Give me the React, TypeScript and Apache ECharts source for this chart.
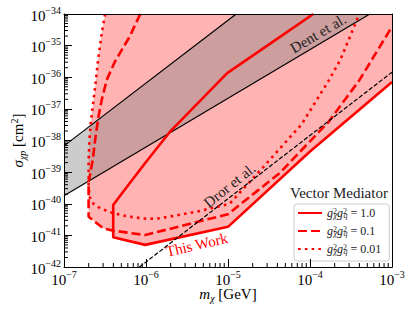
import React, { useEffect, useRef } from "react";
import * as echarts from "echarts";

const FONT = "'Liberation Serif', 'Times New Roman', serif";

// axis extents (log10)
const X_EXP = [-7, -3];
const Y_EXP = [-42, -34];

// g_chi^2 g_q^2 = 1.0 (solid)
const solidLogM = [-3.96, -4.37, -5.01, -5.71, -6.01, -6.29, -6.40, -6.40, -6.01, -5.00, -4.00, -3.00];
const solidLogS = [-34.0, -34.73, -35.87, -37.73, -38.71, -39.66, -40.04, -41.06, -41.30, -40.73, -38.35, -36.15];

// g^2 = 0.1 (dashed)
const dashedLogM = [-6.07, -6.20, -6.38, -6.48, -6.54, -6.58, -6.62, -6.65, -6.68, -6.70, -6.70, -6.52, -6.40, -6.01, -5.00, -4.37, -3.77, -3.40, -3.00];
const dashedLogS = [-34.0, -34.72, -35.51, -36.09, -36.72, -37.25, -37.98, -38.62, -39.05, -39.30, -40.41, -40.78, -40.85, -40.99, -40.33, -39.03, -37.40, -36.10, -34.40];

// g^2 = 0.01 (dotted)
const dottedLogM = [-6.50, -6.54, -6.58, -6.62, -6.655, -6.674, -6.69, -6.70, -6.70, -6.68, -6.64, -6.56, -6.40, -6.20, -5.98, -5.83, -5.38, -4.98, -4.57, -4.10, -3.78, -3.63, -3.47, -3.40];
const dottedLogS = [-34.0, -34.61, -35.35, -36.30, -37.04, -37.46, -37.98, -38.62, -39.50, -39.85, -40.00, -40.14, -40.30, -40.41, -40.48, -40.46, -40.25, -40.00, -38.84, -37.48, -36.14, -35.45, -34.45, -34.0];

// Dent et al. band edges
const dentUpperLogM = [-7, -4.9];
const dentUpperLogS = [-38.17, -34.0];
const dentLowerLogM = [-7, -3.27];
const dentLowerLogS = [-39.75, -34.0];

// Dror et al. line
const drorLogM = [-6.08, -3.0];
const drorLogS = [-42.0, -35.84];

const legendNames = ["c1", "c01", "c001"];
const legendValues = ["1.0", "0.1", "0.01"];

const annoText = ["Dent et al.", "Dror et al.", "This Work"];
const annoLogM = [-3.90, -4.98, -5.38];
const annoLogS = [-34.62, -39.42, -41.30];
const annoAngle = [30.7, 38.5, 13];
const annoColor = ["#222222", "#222222", "#ff0000"];

const yTickExp = [-42, -41, -40, -39, -38, -37, -36, -35, -34];
const minorMult = [2, 3, 4, 5, 6, 7, 8, 9];

const P = (m: number[], s: number[]) => m.map((v, i) => [Math.pow(10, v), Math.pow(10, s[i])]);

export default function App() {
  const ref = useRef<HTMLDivElement>(null);
  useEffect(() => {
    if (!ref.current) return;
    const chart = echarts.init(ref.current, undefined, { renderer: "svg" });

    const xMin = Math.pow(10, X_EXP[0]);
    const xMax = Math.pow(10, X_EXP[1]);
    const yMin = Math.pow(10, Y_EXP[0]);
    const yMax = Math.pow(10, Y_EXP[1]);

    const solid = P(solidLogM, solidLogS);
    const dashed = P(dashedLogM, dashedLogS);
    const dotted = P(dottedLogM, dottedLogS);
    const fillPts = [...dotted.slice(0, 8), ...dashed.slice(9, 13), ...solid.slice(7), [xMax, yMax]];
    const up = P(dentUpperLogM, dentUpperLogS);
    const lo = P(dentLowerLogM, dentLowerLogS);
    const bandPts = [up[0], up[1], lo[1], lo[0]];

    const xMinor: number[][] = [];
    for (let e = X_EXP[0]; e < X_EXP[1]; e++) minorMult.forEach((m) => xMinor.push([m * Math.pow(10, e), yMin]));
    const yMinor: number[][] = [];
    for (let e = Y_EXP[0]; e < Y_EXP[1]; e++) minorMult.forEach((m) => yMinor.push([xMin, m * Math.pow(10, e)]));

    const tickRich: any = {
      b: { fontFamily: FONT, fontSize: 15, fill: "#000", color: "#000", lineHeight: 18, verticalAlign: "bottom" },
      s: { fontFamily: FONT, fontSize: 10, fill: "#000", color: "#000", lineHeight: 10, verticalAlign: "top" },
    };
    const fmtExp = (e: number) => `{b|10}{s|${e < 0 ? "\u2212" : ""}${Math.abs(e)}}`;
    const fmtTick = (v: number) => fmtExp(Math.round(Math.log10(v)));
    const nameRich = {
      i: { fontFamily: FONT, fontSize: 15, fontStyle: "italic", color: "#000", lineHeight: 18 },
      t: { fontFamily: FONT, fontSize: 15, color: "#000", lineHeight: 18 },
      sub: { fontFamily: FONT, fontSize: 10, fontStyle: "italic", color: "#000", lineHeight: 10, verticalAlign: "bottom" },
      sup: { fontFamily: FONT, fontSize: 10, color: "#000", lineHeight: 10, verticalAlign: "top" },
    };

    const poly = (pts: number[][], fill: string, z: number) => ({
      type: "custom",
      xAxisIndex: 0,
      yAxisIndex: 0,
      silent: true,
      z,
      data: [[pts[0][0], pts[0][1]]],
      renderItem: (_p: any, api: any) => ({
        type: "polygon",
        shape: { points: pts.map((p) => api.coord(p)) },
        style: { fill },
      }),
    });

    const redLine = (name: string, data: number[][], type: any) => ({
      name,
      type: "line",
      data,
      symbol: "none",
      showSymbol: false,
      clip: true,
      z: 4,
      silent: true,
      itemStyle: { color: "#ff0000" },
      lineStyle: { color: "#ff0000", width: 2.6, type, cap: "butt" },
    });

    const legendLabel: Record<string, string> = {};
    legendNames.forEach((n, i) => {
      legendLabel[n] = `{g|g}{sup|2}{sub|\u03c7}{g|g}{sup|2}{sub|q}{t| = ${legendValues[i]}}`;
    });

    const option: any = {
      animation: false,
      backgroundColor: "#ffffff",
      textStyle: { fontFamily: FONT },
      grid: { left: 64, top: 14, width: 328, height: 253, outerBoundsMode: "none" },
      title: {
        text: "Vector Mediator",
        left: 290,
        top: 185,
        padding: 0,
        textStyle: { fontFamily: FONT, fontSize: 15, fontWeight: "normal", color: "#222" },
      },
      legend: {
        data: legendNames,
        orient: "vertical",
        left: 294,
        top: 204,
        itemWidth: 24,
        itemHeight: 10,
        itemGap: 6,
        padding: [3, 8, 6, 3],
        backgroundColor: "#ffffff",
        borderColor: "#cccccc",
        borderWidth: 1,
        borderRadius: 3,
        selectedMode: false,
        itemStyle: { opacity: 0 },
        formatter: (n: string) => legendLabel[n],
        textStyle: {
          fontFamily: FONT,
          rich: {
            g: { fontFamily: FONT, fontSize: 12, fontStyle: "italic", color: "#222", lineHeight: 12 },
            t: { fontFamily: FONT, fontSize: 12, color: "#222", lineHeight: 12 },
            sup: { fontFamily: FONT, fontSize: 8, color: "#222", lineHeight: 8, verticalAlign: "top", width: 0.5 },
            sub: { fontFamily: FONT, fontSize: 8, fontStyle: "italic", color: "#222", lineHeight: 8, verticalAlign: "bottom" },
          },
        },
      },
      xAxis: [
        {
          type: "log",
          logBase: 10,
          min: xMin,
          max: xMax,
          splitNumber: 4,
          position: "bottom",
          z: 10,
          axisLine: { show: true, onZero: false, lineStyle: { color: "#000", width: 1 } },
          axisTick: { show: true, inside: true, length: 8, lineStyle: { color: "#000", width: 1 } },
          axisLabel: {
            fontFamily: FONT,
            fontSize: 15,
            color: "#000",
            showMinLabel: true,
            showMaxLabel: true,
            hideOverlap: false,
            formatter: fmtTick,
            rich: tickRich,
            margin: 2,
          },
          splitLine: { show: false },
          name: "{i|m}{sub|\u03c7}{t| [GeV]}",
          nameLocation: "middle",
          nameGap: 18,
          nameMoveOverlap: false,
          nameTextStyle: { fontFamily: FONT, fontSize: 15, rich: nameRich },
        },
        {
          type: "log",
          logBase: 10,
          min: xMin,
          max: xMax,
          position: "top",
          z: 10,
          axisLine: { show: true, onZero: false, lineStyle: { color: "#000", width: 1 } },
          axisTick: { show: false },
          axisLabel: { show: false },
          splitLine: { show: false },
        },
      ],
      yAxis: [
        {
          type: "log",
          logBase: 10,
          min: yMin,
          max: yMax,
          splitNumber: 8,
          position: "left",
          z: 10,
          axisLine: { show: true, onZero: false, lineStyle: { color: "#000", width: 1 } },
          axisTick: { show: true, inside: true, length: 8, lineStyle: { color: "#000", width: 1 } },
          axisLabel: { show: false },
          splitLine: { show: false },
          name: "{i|\u03c3}{sub|\u03c7p}{t| [cm}{sup|2}{t|]}",
          nameLocation: "middle",
          nameRotate: 90,
          nameGap: 37,
          nameMoveOverlap: false,
          nameTextStyle: { fontFamily: FONT, fontSize: 15, rich: nameRich },
        },
        {
          type: "log",
          logBase: 10,
          min: yMin,
          max: yMax,
          position: "right",
          z: 10,
          axisLine: { show: true, onZero: false, lineStyle: { color: "#000", width: 1 } },
          axisTick: { show: false },
          axisLabel: { show: false },
          splitLine: { show: false },
        },
      ],
      series: [
        poly(fillPts, "#ffb3b3", 1),
        poly(bandPts, "rgba(128,128,128,0.4)", 2),
        {
          type: "line",
          data: up,
          symbol: "none",
          z: 3,
          silent: true,
          lineStyle: { color: "#000", width: 1.2 },
        },
        {
          type: "line",
          data: lo,
          symbol: "none",
          z: 3,
          silent: true,
          lineStyle: { color: "#000", width: 1.2 },
        },
        redLine("c1", solid, "solid"),
        redLine("c01", dashed, [9, 4]),
        redLine("c001", dotted, [2.6, 4.2]),
        {
          type: "line",
          data: P(drorLogM, drorLogS),
          symbol: "none",
          z: 5,
          silent: true,
          lineStyle: { color: "#000", width: 1.2, type: [4.4, 1.9] },
        },
        {
          type: "custom",
          silent: true,
          z: 6,
          data: annoText.map((_t, i) => [Math.pow(10, annoLogM[i]), Math.pow(10, annoLogS[i])]),
          renderItem: (params: any, api: any) => {
            const i = params.dataIndex;
            const p = api.coord([api.value(0), api.value(1)]);
            return {
              type: "text",
              x: p[0],
              y: p[1],
              rotation: (annoAngle[i] * Math.PI) / 180,
              style: {
                text: annoText[i],
                fill: annoColor[i],
                fontFamily: FONT,
                fontSize: 15,
                align: "center",
                verticalAlign: "middle",
              },
            };
          },
        },
        {
          // y tick labels
          type: "custom",
          silent: true,
          clip: false,
          z: 10,
          data: yTickExp.map((e) => [xMin, Math.pow(10, e)]),
          renderItem: (params: any, api: any) => {
            const p = api.coord([api.value(0), api.value(1)]);
            return {
              type: "text",
              x: p[0] - 3,
              y: p[1],
              style: {
                text: fmtExp(yTickExp[params.dataIndex]),
                rich: tickRich,
                fontFamily: FONT,
                fontSize: 15,
                fill: "#000",
                align: "right",
                verticalAlign: "middle",
              },
            };
          },
        },
        {
          type: "custom",
          silent: true,
          clip: false,
          z: 10,
          data: xMinor,
          renderItem: (_p: any, api: any) => {
            const p = api.coord([api.value(0), api.value(1)]);
            return { type: "line", shape: { x1: p[0], y1: p[1], x2: p[0], y2: p[1] - 4 }, style: { stroke: "#000", lineWidth: 1 } };
          },
        },
        {
          type: "custom",
          silent: true,
          clip: false,
          z: 10,
          data: yMinor,
          renderItem: (_p: any, api: any) => {
            const p = api.coord([api.value(0), api.value(1)]);
            return { type: "line", shape: { x1: p[0], y1: p[1], x2: p[0] + 4, y2: p[1] }, style: { stroke: "#000", lineWidth: 1 } };
          },
        },
      ],
    };
    chart.setOption(option);
    return () => chart.dispose();
  }, []);
  return <div ref={ref} style={{ position: "fixed", left: 0, top: 0, width: 415, height: 311 }} />;
}
